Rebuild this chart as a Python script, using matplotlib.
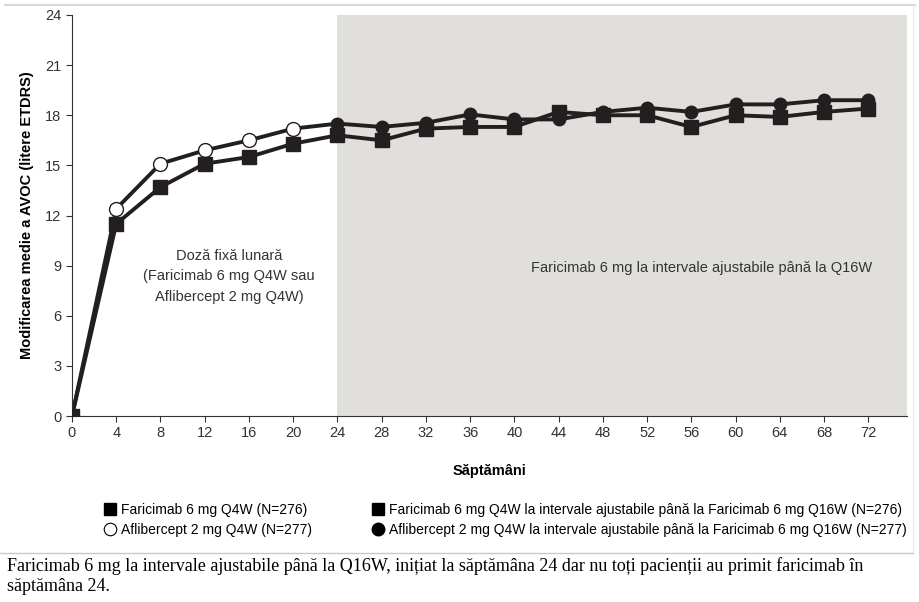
import matplotlib.pyplot as plt
from matplotlib.lines import Line2D

# valori
saptamani = [0, 4, 8, 12, 16, 20, 24, 28, 32, 36, 40, 44, 48, 52, 56, 60, 64, 68, 72]
faricimab = [0, 11.5, 13.7, 15.1, 15.5, 16.3, 16.8, 16.5, 17.2, 17.3, 17.3, 18.2, 18.0, 18.0, 17.3, 18.0, 17.9, 18.2, 18.4]
aflibercept = [0, 12.4, 15.1, 15.9, 16.5, 17.2, 17.5, 17.3, 17.55, 18.05, 17.75, 17.75, 18.2, 18.45, 18.2, 18.65, 18.65, 18.9, 18.9]
yticks = [0, 3, 6, 9, 12, 15, 18, 21, 24]

plt.rcParams['font.family'] = ['Liberation Sans', 'DejaVu Sans']
ink = '#231f20'

fig = plt.figure(figsize=(9.2, 6.02), dpi=100)
ax = fig.add_axes([72/920, 1-416/602, (907-72)/920, (416-15)/602])

ax.axvspan(24, 75.5, color='#e1dfdc', zorder=0, lw=0)

ax.plot(saptamani, aflibercept, color=ink, lw=2.8, zorder=2)
ax.plot(saptamani, faricimab, color=ink, lw=2.8, zorder=2)

k = saptamani.index(24)
# perioada fixa (markeri goi pentru aflibercept)
ax.plot(saptamani[:k], aflibercept[:k], 'o', ms=10, mfc='white', mec=ink, mew=1, zorder=3)
ax.plot(saptamani[:k], faricimab[:k], 's', ms=10, color=ink, zorder=3)
# perioada ajustabila
ax.plot(saptamani[k:], aflibercept[k:], 'o', ms=9, color=ink, zorder=3)
ax.plot(saptamani[k:], faricimab[k:], 's', ms=10, color=ink, zorder=3)

ax.set_xlim(0, 75.5)
ax.set_ylim(0, 24)
ax.set_xticks(saptamani)
ax.set_yticks(yticks)
ax.tick_params(labelsize=10.5, colors='#333333', length=4, width=0.8)
for s in ['top', 'right']:
    ax.spines[s].set_visible(False)
for s in ['left', 'bottom']:
    ax.spines[s].set_color('#333333')

ax.set_ylabel('Modificarea medie a AVOC (litere ETDRS)', fontsize=10.5, fontweight='bold', labelpad=8)
ax.set_xlabel('Săptămâni', fontsize=10.5, fontweight='bold', labelpad=17)

ax.text(14.2, 8.35, 'Doză fixă lunară\n(Faricimab 6 mg Q4W sau\nAflibercept 2 mg Q4W)',
        ha='center', va='center', fontsize=10.5, color='#333333', linespacing=1.6)
ax.text(56.9, 8.85, 'Faricimab 6 mg la intervale ajustabile până la Q16W',
        ha='center', va='center', fontsize=10.5, color='#333333')

h1 = [Line2D([], [], ls='', marker='s', ms=9, color='black'),
      Line2D([], [], ls='', marker='o', ms=9, mfc='white', mec='black', mew=0.8)]
l1 = ['Faricimab 6 mg Q4W (N=276)', 'Aflibercept 2 mg Q4W (N=277)']
h2 = [Line2D([], [], ls='', marker='s', ms=9, color='black'),
      Line2D([], [], ls='', marker='o', ms=9, color='black')]
l2 = ['Faricimab 6 mg Q4W la intervale ajustabile până la Faricimab 6 mg Q16W (N=276)',
      'Aflibercept 2 mg Q4W la intervale ajustabile până la Faricimab 6 mg Q16W (N=277)']
for h, l, x in [(h1, l1, 104/920), (h2, l2, 372/920)]:
    fig.legend(h, l, loc='upper left', bbox_to_anchor=(x, 1-503/602), frameon=False,
               fontsize=10, handlelength=0.8, handletextpad=0.4, labelspacing=0.42,
               borderaxespad=0, borderpad=0)

fig.add_artist(Line2D([0.005, 0.995], [1-5/602, 1-5/602], color='#d8d8d8', lw=1.5))
fig.add_artist(Line2D([913/920, 913/920], [1-5/602, 1-553/602], color='#ececec', lw=1))
fig.add_artist(Line2D([0.0, 913/920], [1-553/602, 1-553/602], color='#c8c8c8', lw=1))
fig.text(7/920, 1-557/602, 'Faricimab 6 mg la intervale ajustabile până la Q16W, inițiat la săptămâna 24 dar nu toți pacienții au primit faricimab în\nsăptămâna 24.',
         family=['Liberation Serif', 'DejaVu Serif'], fontsize=13, va='top', ha='left', linespacing=1.25)

fig.savefig('out.png', dpi=100)
